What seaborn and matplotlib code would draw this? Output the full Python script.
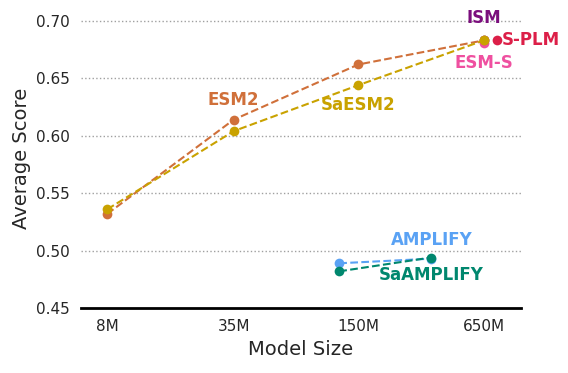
import matplotlib
matplotlib.use("Agg")
import matplotlib.pyplot as plt
import seaborn as sns
import pandas as pd

# sizes in millions of parameters
esm2_size = [8, 35, 150, 650]
esm2_score = [0.532, 0.614, 0.662, 0.683]
saesm2_size = [8, 35, 150, 650]
saesm2_score = [0.536, 0.604, 0.644, 0.683]
amplify_size = [120, 350]
amplify_score = [0.489, 0.493]
saamplify_size = [120, 350]
saamplify_score = [0.482, 0.494]
ism_size = [650]
ism_score = [0.683]
esms_size = [650]
esms_score = [0.681]
splm_size = [760]
splm_score = [0.683]

tick_vals = [8, 35, 150, 650]
tick_labels = ["8M", "35M", "150M", "650M"]

colors = {
    "ESM2": "#d0703a",
    "SaESM2": "#c9a200",
    "AMPLIFY": "#5aa2f4",
    "SaAMPLIFY": "#00876e",
    "ISM": "#7b0e7d",
    "S-PLM": "#dc1f48",
    "ESM-S": "#ef50a0",
}

sns.set_theme(style="white")
plt.rcParams["font.family"] = ["DejaVu Sans"]
fig, ax = plt.subplots(figsize=(5.68, 3.73), dpi=100)
fig.subplots_adjust(left=0.143, right=0.917, bottom=0.174, top=0.975)

for y in [0.50, 0.55, 0.60, 0.65, 0.70]:
    ax.axhline(y, color="#a0a0a0", linestyle=":", linewidth=1, zorder=0)


def draw(name, xs, ys, line=True):
    df = pd.DataFrame({"size": xs, "score": ys})
    sns.lineplot(data=df, x="size", y="score", ax=ax, color=colors[name],
                 marker="o", markersize=7, markeredgewidth=0,
                 linestyle="--" if line else "", linewidth=1.5)


draw("ISM", ism_size, ism_score, line=False)
draw("ESM-S", esms_size, esms_score, line=False)
draw("ESM2", esm2_size, esm2_score)
draw("SaESM2", saesm2_size, saesm2_score)
draw("AMPLIFY", amplify_size, amplify_score)
draw("SaAMPLIFY", saamplify_size, saamplify_score)
draw("S-PLM", splm_size, splm_score, line=False)

lab = dict(fontsize=12, fontweight="bold")
ax.text(35, 0.631, "ESM2", color=colors["ESM2"], ha="center", va="center", **lab)
ax.text(150, 0.627, "SaESM2", color=colors["SaESM2"], ha="center", va="center", **lab)
ax.text(650, 0.7026, "ISM", color=colors["ISM"], ha="center", va="center", **lab)
ax.text(800, 0.6835, "S-PLM", color=colors["S-PLM"], ha="left", va="center", **lab)
ax.text(650, 0.6634, "ESM-S", color=colors["ESM-S"], ha="center", va="center", **lab)
ax.text(352, 0.509, "AMPLIFY", color=colors["AMPLIFY"], ha="center", va="center", **lab)
ax.text(352, 0.4787, "SaAMPLIFY", color=colors["SaAMPLIFY"], ha="center", va="center", **lab)

ax.set_xscale("log")
ax.set_xlim(5.9, 1000)
ax.set_ylim(0.45, 0.71)
ax.set_xticks(tick_vals)
ax.set_xticklabels(tick_labels)
ax.minorticks_off()
ax.set_yticks([0.45, 0.50, 0.55, 0.60, 0.65, 0.70])
ax.set_yticklabels(["0.45", "0.50", "0.55", "0.60", "0.65", "0.70"])
ax.tick_params(axis="both", labelsize=11, length=0, colors="#262626")
ax.tick_params(axis="x", pad=8)
ax.tick_params(axis="y", pad=8)
ax.set_xlabel("Model Size", fontsize=14, color="#262626", labelpad=4)
ax.set_ylabel("Average Score", fontsize=14, color="#262626", labelpad=4)

for side in ["top", "right", "left"]:
    ax.spines[side].set_visible(False)
ax.spines["bottom"].set_color("black")
ax.spines["bottom"].set_linewidth(2)

fig.savefig("out.png", dpi=100)
